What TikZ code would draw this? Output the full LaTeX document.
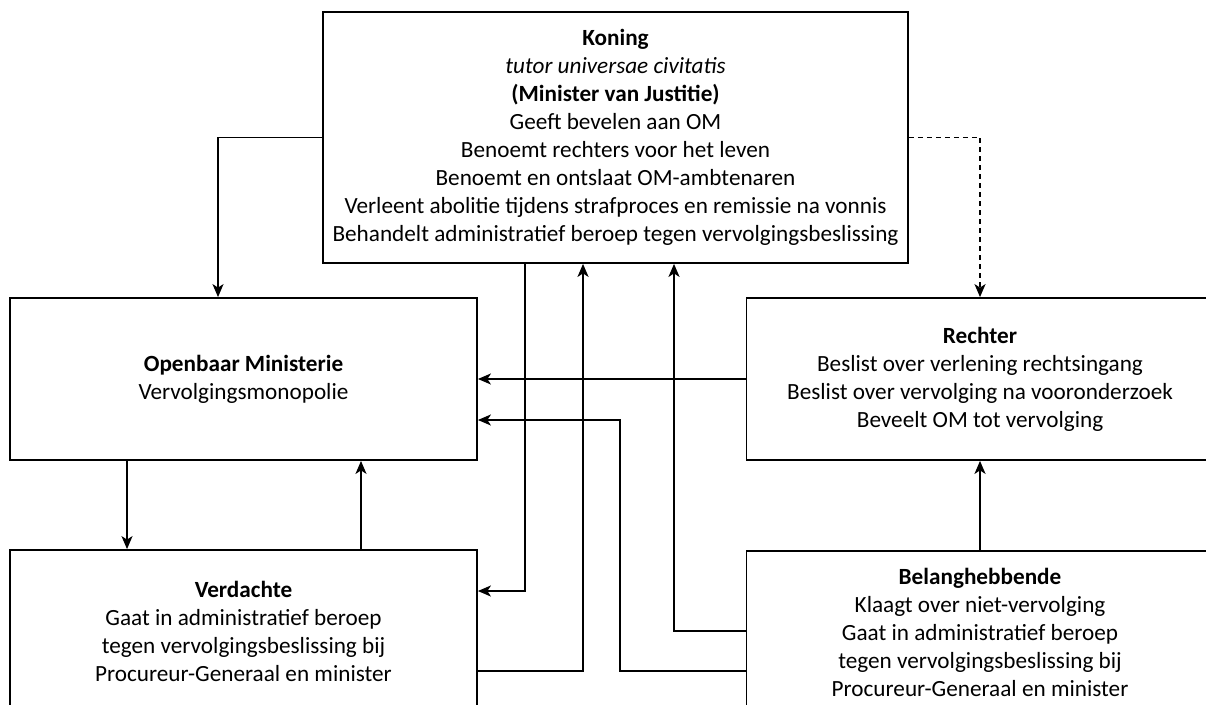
\documentclass[tikz,border=0pt]{standalone}
\usepackage{fontspec}
\setmainfont{Carlito}
\usetikzlibrary{arrows.meta}
\tikzset{
  box/.style={draw, line width=1.8pt, rectangle, align=center, inner sep=0pt,
    font=\fontsize{23.2}{28}\selectfont},
  arr/.style={line width=1.8pt, -{Stealth[length=13pt,width=11pt,inset=3.5pt]}},
}
\begin{document}
\begin{tikzpicture}[x=1pt,y=-1pt]
\useasboundingbox (0,0) rectangle (1206,704);
\clip (0,0) rectangle (1206,704);
\node[box, minimum width=585pt, minimum height=251pt] (K) at (615.5,137.5)
  {\textbf{Koning}\\ \textit{tutor universae civitatis}\\ \textbf{(Minister van Justitie)}\\
   Geeft bevelen aan OM\\ Benoemt rechters voor het leven\\ Benoemt en ontslaat OM-ambtenaren\\
   Verleent abolitie tijdens strafproces en remissie na vonnis\\
   Behandelt administratief beroep tegen vervolgingsbeslissing};
\node[box, minimum width=467pt, minimum height=162pt] (OM) at (243.5,379)
  {\textbf{Openbaar Ministerie}\\ Vervolgingsmonopolie};
\node[box, minimum width=467pt, minimum height=162pt] (R) at (980,379)
  {\textbf{Rechter}\\ Beslist over verlening rechtsingang\\ Beslist over vervolging na vooronderzoek\\ Beveelt OM tot vervolging};
\node[box, minimum width=467pt, minimum height=163pt] (V) at (243.5,631.5)
  {\textbf{Verdachte}\\ Gaat in administratief beroep\\ tegen vervolgingsbeslissing bij\\ Procureur-Generaal en minister};
\node[box, minimum width=467pt, minimum height=163pt] (B) at (980,632.5)
  {\textbf{Belanghebbende}\\ Klaagt over niet-vervolging\\ Gaat in administratief beroep\\ tegen vervolgingsbeslissing bij\\ Procureur-Generaal en minister};
% connectors
\draw[arr] (K.west) -| (218,0 |- OM.north);
\draw[arr, dash pattern=on 5pt off 4pt] (K.east) -| (980,0 |- R.north);
\draw[arr] (525,0 |- K.south) |- (V.east |- 0,591);
\draw[arr] (V.east |- 0,671) -| (583,0 |- K.south);
\draw[arr] (B.west |- 0,631) -| (674,0 |- K.south);
\draw[arr] (B.west |- 0,671) -| (620,420) -- (OM.east |- 0,420);
\draw[arr] (R.west) -- (OM.east |- R.west);
\draw[arr] (127,0 |- OM.south) -- (127,0 |- V.north);
\draw[arr] (361,0 |- V.north) -- (361,0 |- OM.south);
\draw[arr] (B.north) -- (B.north |- R.south);
\end{tikzpicture}
\end{document}
